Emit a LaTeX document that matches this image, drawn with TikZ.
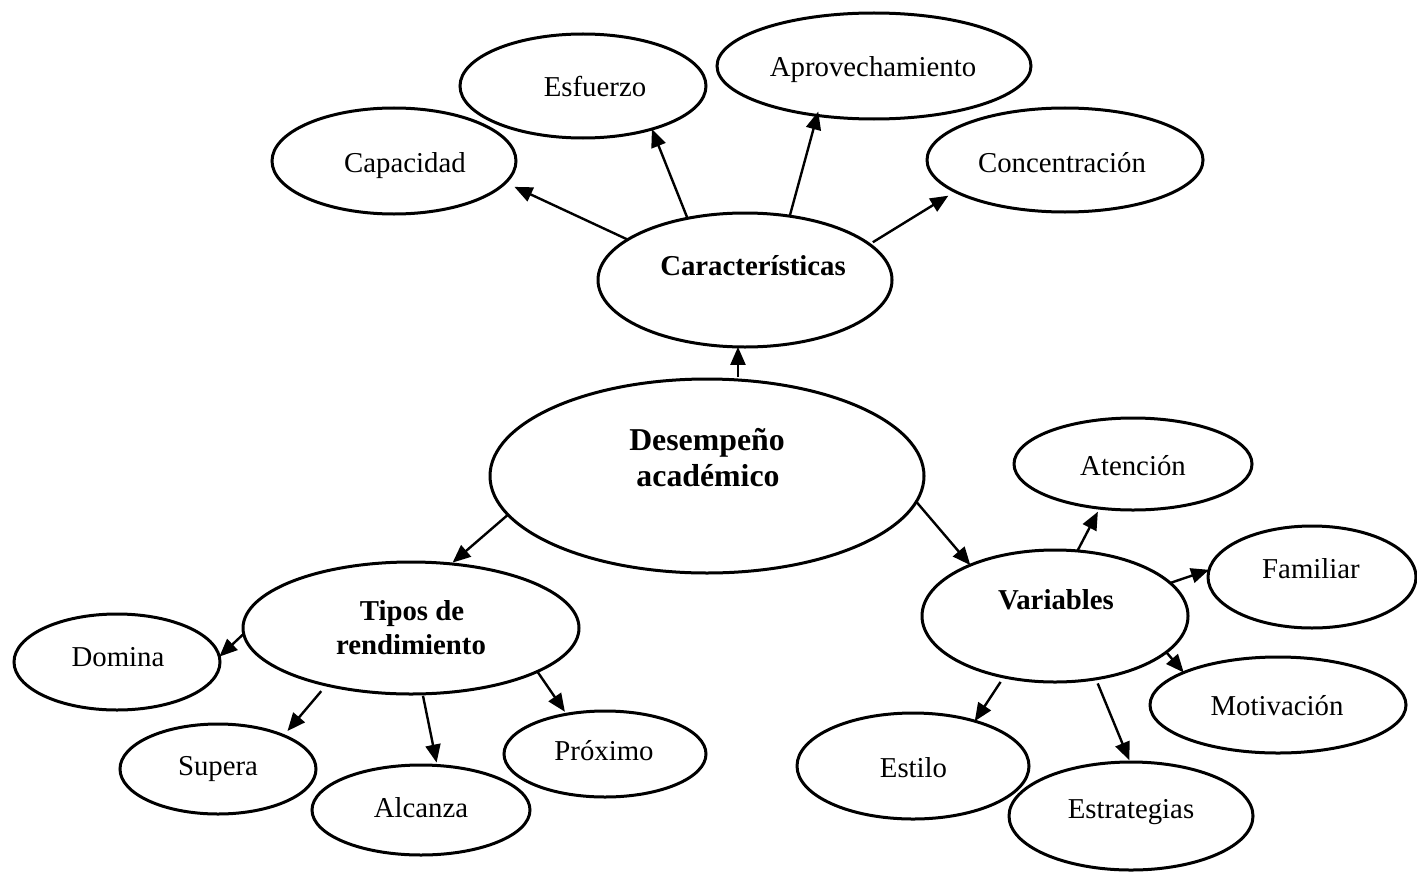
\documentclass[tikz,border=0pt]{standalone}
\usepackage{fontspec}
\setmainfont{Liberation Serif}
\usetikzlibrary{arrows.meta,shapes.geometric}
\begin{document}
\begin{tikzpicture}[x=0.5pt,y=-0.5pt,
 ell/.style={draw, ellipse, line width=1.5pt, inner sep=0pt, outer sep=0pt},
 lbl/.style={anchor=base, inner sep=0pt, font=\fontsize{14.4}{17}\selectfont},
 blbl/.style={anchor=base, inner sep=0pt, font=\fontsize{14.4}{17}\selectfont\bfseries},
 bigblbl/.style={anchor=base, inner sep=0pt, font=\fontsize{15.9}{19}\selectfont\bfseries},
 arr/.style={line width=1.2pt, -{Triangle[length=9pt,width=7.5pt]}},
]
\useasboundingbox (0,0) rectangle (1417,872);
% ellipses
\node[ell, minimum width=122pt, minimum height=53pt] (cap) at (394,161) {};
\node[ell, minimum width=123pt, minimum height=52pt] (esf) at (583,86) {};
\node[ell, minimum width=157pt, minimum height=53pt] (apr) at (874,66) {};
\node[ell, minimum width=138pt, minimum height=52pt] (con) at (1065,160) {};
\node[ell, minimum width=147pt, minimum height=67pt] (car) at (745,280) {};
\node[ell, minimum width=217pt, minimum height=97pt] (des) at (707,476) {};
\node[ell, minimum width=168pt, minimum height=66pt] (tip) at (411,628) {};
\node[ell, minimum width=103pt, minimum height=48pt] (dom) at (117,662) {};
\node[ell, minimum width=98pt, minimum height=45pt] (sup) at (218,769) {};
\node[ell, minimum width=109pt, minimum height=45pt] (alc) at (421,810) {};
\node[ell, minimum width=101pt, minimum height=43pt] (pro) at (605,754) {};
\node[ell, minimum width=133pt, minimum height=66pt] (var) at (1055,616) {};
\node[ell, minimum width=119pt, minimum height=46pt] (ate) at (1133,464) {};
\node[ell, minimum width=104pt, minimum height=51pt] (fam) at (1312,577) {};
\node[ell, minimum width=128pt, minimum height=48pt] (mot) at (1278,705) {};
\node[ell, minimum width=116pt, minimum height=53pt] (est) at (913,766) {};
\node[ell, minimum width=122pt, minimum height=54pt] (esg) at (1131,816) {};
% texts
\node[lbl] (capT) at (405,172.5) {Capacidad};
\node[lbl] (esfT) at (595,97) {Esfuerzo};
\node[lbl] (aprT) at (873,76) {Aprovechamiento};
\node[lbl] (conT) at (1062,172) {Concentración};
\node[blbl] (carT) at (753,275) {Características};
\node[bigblbl] (desT1) at (707,450) {Desempeño};
\node[bigblbl] (desT2) at (708,486) {académico};
\node[blbl] (tipT1) at (412,620) {Tipos de};
\node[blbl] (tipT2) at (411,654) {rendimiento};
\node[blbl] (varT) at (1056,609) {Variables};
\node[lbl] (domT) at (118,666) {Domina};
\node[lbl] (supT) at (218,775.5) {Supera};
\node[lbl] (alcT) at (421,817) {Alcanza};
\node[lbl] (proT) at (604,760.5) {Próximo};
\node[lbl] (ateT) at (1133,475.5) {Atención};
\node[lbl] (famT) at (1311,578.5) {Familiar};
\node[lbl] (motT) at (1277,715.5) {Motivación};
\node[lbl] (estT) at (913.5,777.5) {Estilo};
\node[lbl] (esgT) at (1131,818.5) {Estrategias};
% connectors
\draw[arr, shorten >=5pt] (car.161.6) -- (cap.-11.2);
\draw[arr] (car.133.6) -- (esf.-32.7);
\draw[arr, shorten >=-2pt] (car.55.9) -- (apr.-139.9);
\draw[arr, shorten <=2pt, shorten >=4pt] (car.16.9) -- (con.196.9);
\draw[arr, shorten <=1pt] (car.-96 |- des.north) -- (car.-96);
\draw[arr, shorten >=1pt] (des.191.1) -- (tip.58.2);
\draw[arr] (des.-7.1) -- (var.149.6);
\draw[arr] (tip.182.4) -- (dom.3.8);
\draw[arr, shorten <=4pt, shorten >=3pt] (tip.214) -- (sup.27.5);
\draw[arr, shorten <=1pt, shorten >=1.5pt] (tip.-80) -- (alc.70.1);
\draw[arr, shorten >=1.5pt] (tip.-19.7) -- (pro.134.3);
\draw[arr, shorten >=2pt] (var.71.6) -- (ate.-127.5);
\draw[arr] (var.16.1) -- (fam.176.7);
\draw[arr] (var.-18.6) -- (mot.161.4);
\draw[arr, shorten <=3pt] (var.-130.3) -- (est.36.9);
\draw[arr, shorten <=2.5pt, shorten >=1pt] (var.-57.7) -- (esg.91);
\end{tikzpicture}
\end{document}
